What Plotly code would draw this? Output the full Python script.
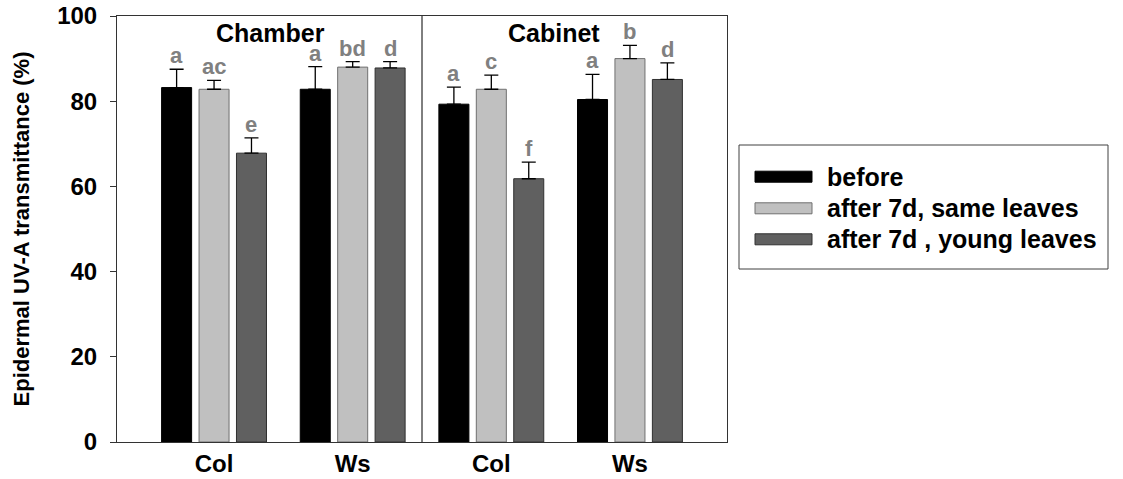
import plotly.graph_objects as go

# ---- data ----
groups = ["Col", "Ws", "Col", "Ws"]          # Chamber: Col, Ws | Cabinet: Col, Ws
series_names = ["before", "after 7d, same leaves", "after 7d , young leaves"]
before_mean = [83.2, 82.8, 79.3, 80.4]
before_err = [4.3, 5.3, 4.0, 5.9]
same_mean = [82.8, 88.0, 82.8, 90.0]
same_err = [2.1, 1.3, 3.3, 3.1]
young_mean = [67.8, 87.8, 61.8, 85.1]
young_err = [3.6, 1.5, 3.9, 3.9]
before_letters = ["a", "a", "a", "a"]
same_letters = ["ac", "bd", "c", "b"]
young_letters = ["e", "d", "f", "d"]
section_labels = ["Chamber", "Cabinet"]
yticks = [0, 20, 40, 60, 80, 100]

FONT = "Arial, 'Liberation Sans', sans-serif"
fills = ["#000000", "#c0c0c0", "#606060"]
edges = ["#000000", "#707070", "#303030"]

means = [before_mean, same_mean, young_mean]
errs = [before_err, same_err, young_err]
letters = [before_letters, same_letters, young_letters]

xpos = list(range(len(groups)))
fig = go.Figure()
for i in range(3):
    fig.add_trace(go.Bar(
        x=xpos, y=means[i], name=series_names[i],
        marker=dict(color=fills[i], line=dict(color=edges[i], width=1)),
        error_y=dict(type="data", array=errs[i], arrayminus=[0] * len(xpos),
                     symmetric=False, color="#000000", thickness=1.3, width=7),
        showlegend=False,
    ))

# significance letters
pitch = 0.27
for i in range(3):
    off = (i - 1) * pitch
    for g in xpos:
        fig.add_annotation(
            x=g + off, y=means[i][g] + errs[i][g], xref="x", yref="y",
            text=letters[i][g], showarrow=False, yanchor="bottom", yshift=-1,
            font=dict(family=FONT, size=22, color="#808080", weight="bold"),
        )

# section labels
fig.add_annotation(x=0.41, y=95.9, xref="x", yref="y", text=section_labels[0],
                   showarrow=False, font=dict(family=FONT, size=25, color="black", weight="bold"))
fig.add_annotation(x=2.45, y=95.9, xref="x", yref="y", text=section_labels[1],
                   showarrow=False, font=dict(family=FONT, size=25, color="black", weight="bold"))

# divider between sections
fig.add_shape(type="line", x0=1.5, x1=1.5, y0=-0.6, y1=100, xref="x", yref="y",
              line=dict(color="black", width=1))

# manual legend (paper coords)
L, R, T, B = 117, 727, 16, 442
def px(x): return (x - L) / (R - L)
def py(y): return (B - y) / (B - T)

fig.add_shape(type="rect", xref="paper", yref="paper",
              x0=px(739), x1=px(1108), y0=py(145), y1=py(269),
              line=dict(color="#404040", width=1), fillcolor="white")
rows = [176.7, 208.3, 239.3]
for i, yy in enumerate(rows):
    fig.add_shape(type="rect", xref="paper", yref="paper",
                  x0=px(755), x1=px(812), y0=py(yy - 5.5), y1=py(yy + 5.5),
                  line=dict(color=edges[i], width=1), fillcolor=fills[i])
    fig.add_annotation(xref="paper", yref="paper", x=px(825), y=py(yy),
                       xanchor="left", yanchor="middle", text=series_names[i], showarrow=False,
                       font=dict(family=FONT, size=25, color="black", weight="bold"))

fig.update_layout(
    width=1123, height=479,
    margin=dict(l=L, r=1123 - R, t=T, b=479 - B, autoexpand=False),
    paper_bgcolor="white", plot_bgcolor="white",
    barmode="group", bargap=0.19, bargroupgap=0.198,
    font=dict(family=FONT, color="black"),
    showlegend=False,
)
fig.update_xaxes(
    range=[-0.7, 3.7], tickvals=xpos, ticktext=groups, ticks="",
    showgrid=False, zeroline=False, showline=True, mirror=True,
    linecolor="#333333", linewidth=1, automargin=False,
    tickfont=dict(family=FONT, size=24, color="black", weight="bold"),
)
fig.update_yaxes(
    range=[0, 100], tickvals=yticks, ticks="outside", ticklen=6, tickcolor="#333333",
    showgrid=False, zeroline=False, showline=True, mirror=True,
    linecolor="#333333", linewidth=1, automargin=False, ticklabelstandoff=8,
    tickfont=dict(family=FONT, size=24, color="black", weight="bold"),
    title=dict(text="Epidermal UV-A transmittance (%)", standoff=21,
               font=dict(family=FONT, size=22, color="black", weight="bold")),
)

fig.write_html("out.html")
